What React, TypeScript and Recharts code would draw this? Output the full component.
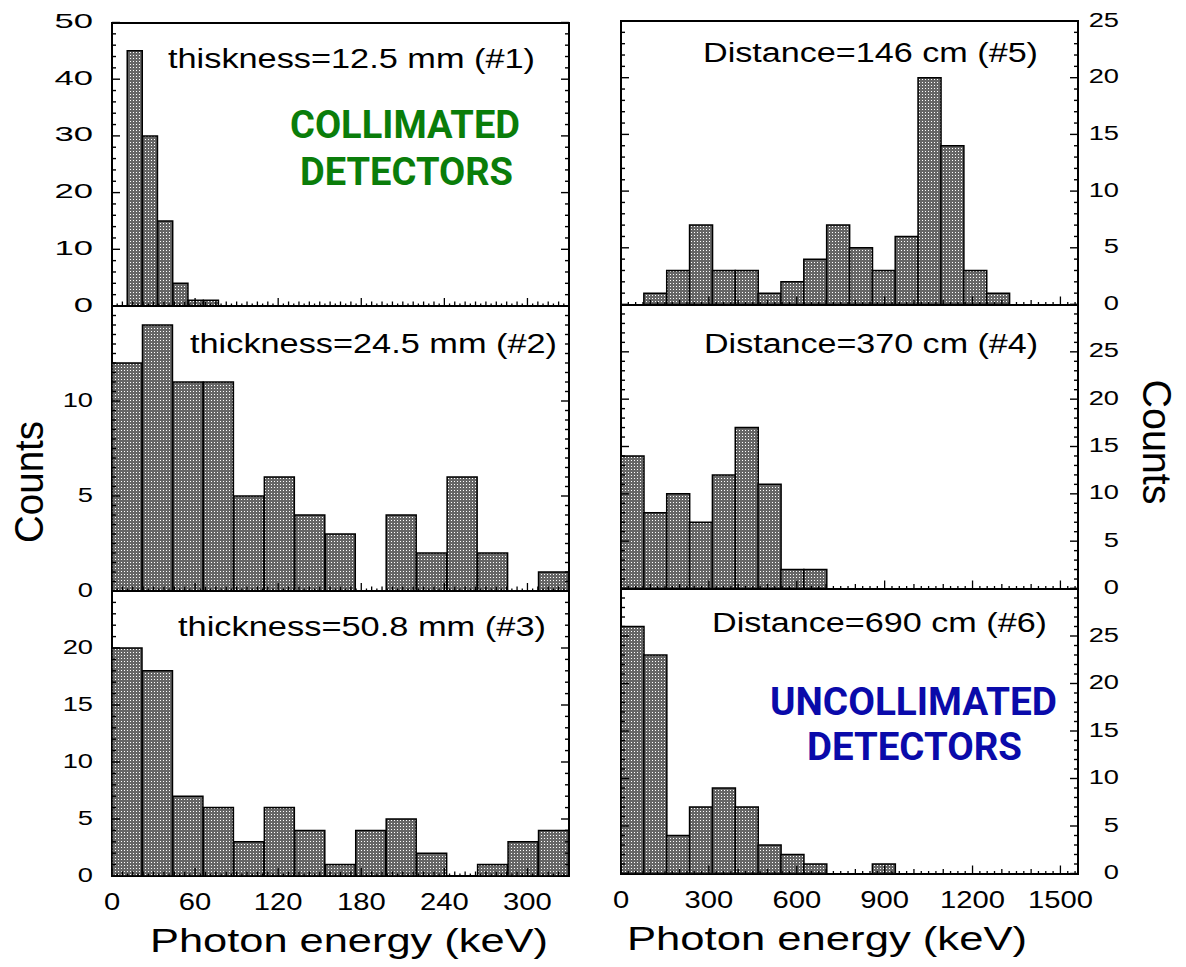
import React from "react";
import { BarChart, Bar, Line, XAxis, YAxis } from "recharts";

const PAGE_W = 1186;
const PAGE_H = 967;

// bin start energies (keV)
const binsThin = [
  0, 11, 22, 33, 44, 55, 66, 77, 88, 99, 110, 121, 132, 143, 154, 165, 176, 187, 198, 209, 220,
  231, 242, 253, 264, 275, 286, 297, 308, 319,
];
const binsWide = [0, 22, 44, 66, 88, 110, 132, 154, 176, 198, 220, 242, 264, 286, 308];
const binsRight = [
  0, 78, 156, 234, 312, 390, 468, 546, 624, 702, 780, 858, 936, 1014, 1092, 1170, 1248, 1326,
  1404, 1482,
];

// counts per bin
const counts1 = [
  0, 45, 30, 15, 4, 1, 1, 0, 0, 0, 0, 0, 0, 0, 0, 0, 0, 0, 0, 0, 0, 0, 0, 0, 0, 0, 0, 0, 0, 0,
];
const counts2 = [12, 14, 11, 11, 5, 6, 4, 3, 0, 4, 2, 6, 2, 0, 1];
const counts3 = [20, 18, 7, 6, 3, 6, 4, 1, 4, 5, 2, 0, 1, 3, 4];
const counts5 = [0, 1, 3, 7, 3, 3, 1, 2, 4, 7, 5, 3, 6, 20, 14, 3, 1, 0, 0, 0];
const counts4 = [14, 8, 10, 7, 12, 17, 11, 2, 2, 0, 0, 0, 0, 0, 0, 0, 0, 0, 0, 0];
const counts6 = [26, 23, 4, 7, 9, 7, 3, 2, 1, 0, 0, 1, 0, 0, 0, 0, 0, 0, 0, 0];

// axis ticks
const leftXTicks = [0, 60, 120, 180, 240, 300];
const rightXTicks = [0, 300, 600, 900, 1200, 1500];
const yTicks1 = [0, 10, 20, 30, 40, 50];
const yTicks2 = [0, 5, 10];
const yTicks3 = [0, 5, 10, 15, 20];
const yTicksR = [0, 5, 10, 15, 20, 25];

const range = (max: number, step: number) => {
  const out: number[] = [];
  for (let v = 0; v <= max + 1e-9; v += step) out.push(+v.toFixed(4));
  return out;
};

const isMultiple = (v: number, step: number) => Math.abs(v / step - Math.round(v / step)) < 1e-6;

const FONT = "'Liberation Sans', Arial, sans-serif";

interface PanelProps {
  id: string;
  bins: number[];
  counts: number[];
  xMax: number;
  xTicks: number[];
  xMid: number;
  xMinor: number;
  yMax: number;
  yTicks: number[];
  yMinor: number;
  side: "left" | "right";
  showX: boolean;
  x0: number;
  x1: number;
  y0: number;
  y1: number;
  labelScale: number;
}

function Panel(p: PanelProps) {
  const half = (p.bins[1] - p.bins[0]) / 2;
  const data = p.bins.map((b, i) => ({ bin: b, center: b + half, count: p.counts[i] }));
  const margin = {
    top: p.y0,
    bottom: PAGE_H - p.y1 - 40,
    left: p.side === "left" ? p.x0 - 60 : p.x0,
    right: p.side === "right" ? PAGE_W - p.x1 - 60 : PAGE_W - p.x1,
  };

  // y ticks: inward marks on both sides, labels on the labelled side
  const yTick = (props: any) => {
    const { x, y, payload } = props;
    const v = payload.value;
    const major = p.yTicks.includes(v) || isMultiple(v, 5);
    const len = major ? 8 : 4;
    const dir = p.side === "left" ? 1 : -1;
    const far = p.side === "left" ? x + (p.x1 - p.x0) : x - (p.x1 - p.x0);
    const labelX = p.side === "left" ? x - 19 : x + 41;
    return (
      <g>
        <line x1={x} x2={x + dir * len} y1={y} y2={y} stroke="#000" strokeWidth={1.4} />
        <line x1={far} x2={far - dir * len} y1={y} y2={y} stroke="#000" strokeWidth={1.4} />
        {p.yTicks.includes(v) && (
          <g transform={`translate(${labelX},${y - 2})`}>
            <text transform={`scale(${p.labelScale},1)`} textAnchor="end" dy="0.36em" fontSize={21} fontFamily={FONT} fill="#000">
              {v}
            </text>
          </g>
        )}
      </g>
    );
  };

  // x ticks: inward marks on the bottom edge, labels on the bottom row
  const xTick = (props: any) => {
    const { x, y, payload } = props;
    const v = payload.value;
    const major = p.xTicks.includes(v);
    const len = major ? 8 : isMultiple(v, p.xMid) ? 4.5 : 2.5;
    return (
      <g>
        <line x1={x} x2={x} y1={y} y2={y - len} stroke="#000" strokeWidth={1.3} />
        {major && p.showX && (
          <g transform={`translate(${x},${y + 34})`}>
            <text transform="scale(1.27,1)" textAnchor="middle" fontSize={23} fontFamily={FONT} fill="#000">
              {v}
            </text>
          </g>
        )}
      </g>
    );
  };

  return (
    <>
      <div
        style={{
          position: "absolute",
          left: p.x0 - 1,
          top: p.y0 - 1,
          width: p.x1 - p.x0 + 2,
          height: p.y1 - p.y0 + 2,
          border: "2px solid #000",
          boxSizing: "border-box",
        }}
      />
      <div style={{ position: "absolute", left: 0, top: 0 }}>
        <BarChart width={PAGE_W} height={PAGE_H} data={data} margin={margin} barCategoryGap={0} barGap={0}>
          <defs>
            <pattern id={`pat-${p.id}`} width={3} height={3} patternUnits="userSpaceOnUse">
              <rect width={3} height={3} fill="#666666" />
              <rect x={1} y={1} width={1} height={1} fill="#ffffff" />
            </pattern>
          </defs>
          <XAxis xAxisId="cat" dataKey="bin" type="category" hide height={0} />
          <XAxis
            xAxisId="num"
            dataKey="center"
            type="number"
            domain={[0, p.xMax]}
            allowDataOverflow
            ticks={range(p.xMax, p.xMinor)}
            interval={0}
            height={40}
            tickSize={0}
            tickMargin={0}
            tickLine={false}
            axisLine={false}
            tick={xTick}
          />
          <YAxis
            yAxisId="main"
            type="number"
            domain={[0, p.yMax]}
            allowDataOverflow
            orientation={p.side}
            ticks={range(p.yMax, p.yMinor)}
            interval={0}
            width={60}
            tickSize={0}
            tickMargin={0}
            tickLine={false}
            axisLine={false}
            tick={yTick}
          />
          <Bar
            xAxisId="cat"
            yAxisId="main"
            dataKey="count"
            fill={`url(#pat-${p.id})`}
            stroke="#000"
            strokeWidth={1.5}
            isAnimationActive={false}
          />
          <Line
            xAxisId="num"
            yAxisId="main"
            dataKey="count"
            stroke="none"
            dot={false}
            activeDot={false}
            legendType="none"
            isAnimationActive={false}
          />
        </BarChart>
      </div>
    </>
  );
}

const titleStyle = { fontFamily: FONT, fontSize: 27, fill: "#000" };

export default function App() {
  return (
    <div style={{ position: "absolute", left: 0, top: 0, width: PAGE_W, height: PAGE_H, background: "#fff", fontFamily: FONT }}>
      <Panel id="p1" bins={binsThin} counts={counts1} xMax={330} xTicks={leftXTicks} xMid={7.5} xMinor={3.75}
        yMax={50} yTicks={yTicks1} yMinor={2} side="left" showX={false} x0={112} x1={569} y0={22.5} y1={306} labelScale={1.65} />
      <Panel id="p2" bins={binsWide} counts={counts2} xMax={330} xTicks={leftXTicks} xMid={7.5} xMinor={3.75}
        yMax={15} yTicks={yTicks2} yMinor={0.5} side="left" showX={false} x0={112} x1={569} y0={306} y1={591} labelScale={1.3} />
      <Panel id="p3" bins={binsWide} counts={counts3} xMax={330} xTicks={leftXTicks} xMid={7.5} xMinor={3.75}
        yMax={25} yTicks={yTicks3} yMinor={1} side="left" showX={true} x0={112} x1={569} y0={591} y1={876} labelScale={1.3} />
      <Panel id="p5" bins={binsRight} counts={counts5} xMax={1560} xTicks={rightXTicks} xMid={100} xMinor={25}
        yMax={25} yTicks={yTicksR} yMinor={1} side="right" showX={false} x0={621} x1={1078} y0={21} y1={304.5} labelScale={1.3} />
      <Panel id="p4" bins={binsRight} counts={counts4} xMax={1560} xTicks={rightXTicks} xMid={100} xMinor={25}
        yMax={30} yTicks={yTicksR} yMinor={1} side="right" showX={false} x0={621} x1={1078} y0={304.5} y1={588.5} labelScale={1.3} />
      <Panel id="p6" bins={binsRight} counts={counts6} xMax={1560} xTicks={rightXTicks} xMid={100} xMinor={25}
        yMax={30} yTicks={yTicksR} yMinor={1} side="right" showX={true} x0={621} x1={1078} y0={588.5} y1={873.5} labelScale={1.3} />

      <svg width={PAGE_W} height={PAGE_H} style={{ position: "absolute", left: 0, top: 0, pointerEvents: "none" }}>
        <text x={168} y={68} textLength={367} lengthAdjust="spacingAndGlyphs" style={titleStyle}>thiskness=12.5 mm (#1)</text>
        <text x={190} y={353} textLength={367} lengthAdjust="spacingAndGlyphs" style={titleStyle}>thickness=24.5 mm (#2)</text>
        <text x={178} y={636} textLength={368} lengthAdjust="spacingAndGlyphs" style={titleStyle}>thickness=50.8 mm (#3)</text>
        <text x={703} y={62} textLength={335} lengthAdjust="spacingAndGlyphs" style={titleStyle}>Distance=146 cm (#5)</text>
        <text x={704} y={353} textLength={334} lengthAdjust="spacingAndGlyphs" style={titleStyle}>Distance=370 cm (#4)</text>
        <text x={712} y={632} textLength={335} lengthAdjust="spacingAndGlyphs" style={titleStyle}>Distance=690 cm (#6)</text>

        <g style={{ fontFamily: "Roboto, 'DejaVu Sans', sans-serif", fontWeight: 700, fontSize: 38 }}>
          <text x={290} y={138} textLength={230} lengthAdjust="spacingAndGlyphs" fill="#0a7d0a">COLLIMATED</text>
          <text x={300} y={185} textLength={213} lengthAdjust="spacingAndGlyphs" fill="#0a7d0a">DETECTORS</text>
          <text x={770} y={715} textLength={287} lengthAdjust="spacingAndGlyphs" fill="#0a0aaa">UNCOLLIMATED</text>
          <text x={807} y={760} textLength={215} lengthAdjust="spacingAndGlyphs" fill="#0a0aaa">DETECTORS</text>
        </g>

        <text x={150} y={952} textLength={398} lengthAdjust="spacingAndGlyphs" style={{ fontFamily: FONT, fontSize: 33 }}>Photon energy (keV)</text>
        <text x={627} y={950} textLength={400} lengthAdjust="spacingAndGlyphs" style={{ fontFamily: FONT, fontSize: 33 }}>Photon energy (keV)</text>

        <text x={43} y={482} transform="rotate(-90, 43, 482)" textAnchor="middle" textLength={122} lengthAdjust="spacingAndGlyphs" style={{ fontFamily: FONT, fontSize: 40 }}>Counts</text>
        <text x={1143} y={442} transform="rotate(90, 1143, 442)" textAnchor="middle" textLength={125} lengthAdjust="spacingAndGlyphs" style={{ fontFamily: FONT, fontSize: 40 }}>Counts</text>
      </svg>
    </div>
  );
}
